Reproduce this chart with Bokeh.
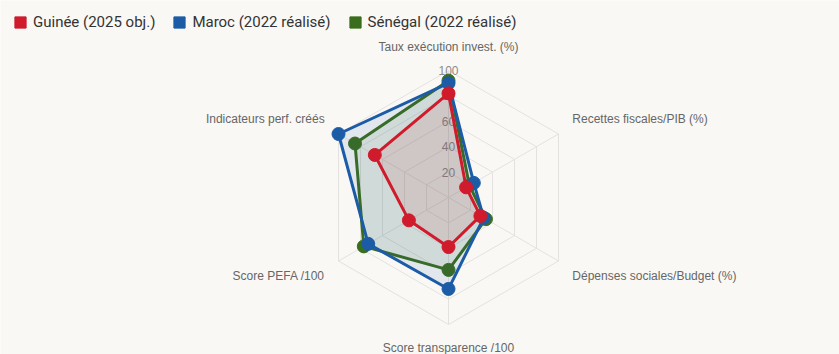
import numpy as np
from bokeh.plotting import figure
from bokeh.models import Legend, LegendItem, Range1d
from bokeh.core.properties import value
from bokeh.embed import file_html
from bokeh.resources import INLINE

# ---- data ----
axis_labels = ["Taux exécution invest. (%)", "Recettes fiscales/PIB (%)",
               "Dépenses sociales/Budget (%)", "Score transparence /100",
               "Score PEFA /100", "Indicateurs perf. créés"]
guinee = [82, 16, 29, 39, 36, 67]
maroc = [90, 23, 32, 72, 73, 100]
senegal = [92, 19, 34, 57, 77, 85]
ticks = [20, 40, 60, 80, 100]
series_names = ["Guinée (2025 obj.)", "Maroc (2022 réalisé)", "Sénégal (2022 réalisé)"]
series_values = [guinee, maroc, senegal]
colors = ["#cf1b2b", "#1c5ca6", "#3b6e1c"]

# ---- layout ----
W, H = 839, 354
CX, CY = 448, 197      # centre in pixels
PX = 1.27              # pixels per unit
BG = "#f9f8f5"

p = figure(width=W, height=H, output_backend="svg", toolbar_location=None,
           x_range=Range1d(-CX / PX, (W - CX) / PX),
           y_range=Range1d(-(H - CY) / PX, CY / PX),
           min_border=0, background_fill_color=BG, border_fill_color=BG)
p.axis.visible = False
p.grid.visible = False
p.outline_line_color = None

n = len(axis_labels)
ang = np.deg2rad(90 - 360 / n * np.arange(n))
cosa, sina = np.cos(ang), np.sin(ang)
grid_col = "#e3e2df"

# rings
for t in ticks:
    p.patch(list(t * cosa), list(t * sina), fill_color=None, line_color=grid_col, line_width=1)
# spokes
rmax = max(ticks)
p.segment(x0=[0] * n, y0=[0] * n, x1=list(rmax * cosa), y1=list(rmax * sina),
          line_color=grid_col, line_width=1)

# tick labels
p.text(x=[0] * len(ticks), y=ticks, text=[str(t) for t in ticks],
       text_font=value("Liberation Sans"), text_font_size="12px",
       text_color="#8c8c8c", text_align="center", text_baseline="middle")

# point labels
LR = 112.6
for i, lab in enumerate(axis_labels):
    c, s = cosa[i], sina[i]
    align = "center" if abs(c) < 1e-6 else ("left" if c > 0 else "right")
    base = "bottom" if s > 1e-6 else ("top" if s < -1e-6 else "middle")
    p.text(x=[LR * c], y=[LR * s], text=[lab], text_font=value("Liberation Sans"),
           text_font_size="12px", text_color="#666666", text_align=align,
           text_baseline=base)

# data series (last dataset drawn first, first on top)
for name, vals, col in reversed(list(zip(series_names, series_values, colors))):
    v = np.array(vals, dtype=float)
    xs, ys = list(v * cosa), list(v * sina)
    p.patch(xs, ys, fill_color=col, fill_alpha=0.1, line_color=col, line_width=3,
            line_join="round")
    p.scatter(xs, ys, size=13, fill_color=col, line_color=col, line_width=1)

# legend (swatch renderers kept outside the visible range)
far = 1e6
items = []
for name, col in zip(series_names, colors):
    r = p.quad(left=[far], right=[far + 1], top=[far + 1], bottom=[far],
               fill_color=col, line_color=col)
    items.append(LegendItem(label=name, renderers=[r]))
legend = Legend(items=items, orientation="horizontal", location=(13, H - 17 - 14),
                glyph_width=14, glyph_height=14, label_height=14, label_standoff=6,
                spacing=17, padding=0, margin=0, border_line_color=None,
                background_fill_alpha=0, label_text_font="Roboto",
                label_text_font_size="15px", label_text_color="#333333")
p.add_layout(legend, "center")

open("out.html", "w").write(file_html(p, INLINE))
